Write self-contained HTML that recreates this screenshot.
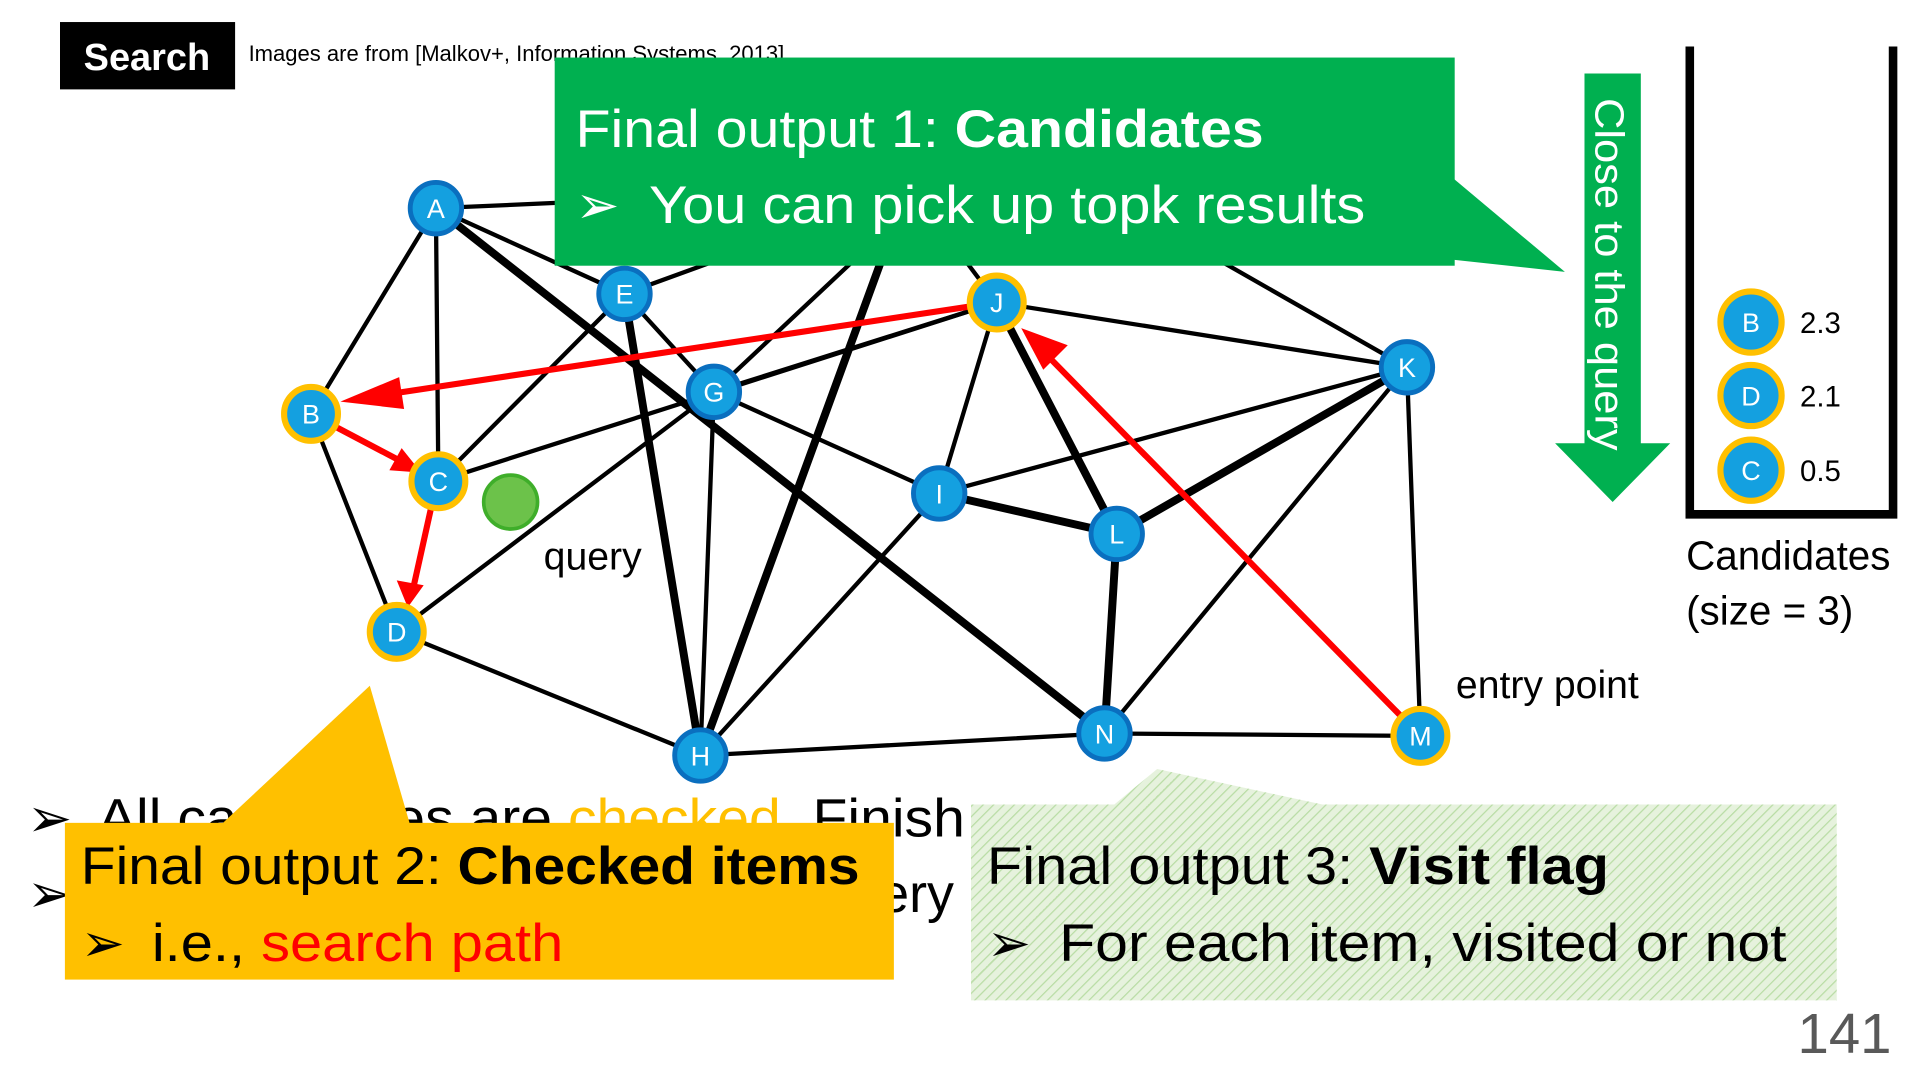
<!DOCTYPE html>
<html><head><meta charset="utf-8"><style>
html,body{margin:0;padding:0;background:#fff;width:1920px;height:1080px;overflow:hidden}
svg{display:block}
text{font-family:"Liberation Sans",sans-serif}
</style></head><body>
<svg width="1920" height="1080" viewBox="0 0 1568 882" xmlns="http://www.w3.org/2000/svg">
<defs>
<pattern id="hatch" width="6" height="6" patternUnits="userSpaceOnUse" patternTransform="rotate(45)">
<rect width="6" height="6" fill="#e6f2dd"/><line x1="0" y1="0" x2="0" y2="6" stroke="#b8dca4" stroke-width="2"/>
</pattern>
</defs>
<!-- background bullet text -->
<g font-size="44" fill="#000">
<text x="22" y="683" font-family="DejaVu Sans">➢</text>
<text x="80" y="683" textLength="708" lengthAdjust="spacingAndGlyphs">All candidates are <tspan fill="#ffc000">checked</tspan>. Finish</text>
<text x="22" y="745" font-family="DejaVu Sans">➢</text>
<text x="718" y="745">ery</text>
</g>
<!-- edges thin -->
<g stroke="#000" stroke-width="3.5" stroke-linecap="round">
<line x1="356" y1="170" x2="254" y2="338"/>
<line x1="356" y1="170" x2="358" y2="393"/>
<line x1="356" y1="170" x2="510" y2="240"/>
<line x1="356" y1="170" x2="470" y2="165"/>
<line x1="254" y1="338" x2="324" y2="516"/>
<line x1="358" y1="393" x2="510" y2="240"/>
<line x1="358" y1="393" x2="814" y2="247"/>
<line x1="324" y1="516" x2="583" y2="320"/>
<line x1="324" y1="516" x2="572" y2="617"/>
<line x1="510" y1="240" x2="583" y2="320"/>
<line x1="510" y1="240" x2="620" y2="200"/>
<line x1="583" y1="320" x2="700" y2="210"/>
<line x1="583" y1="320" x2="572" y2="617"/>
<line x1="583" y1="320" x2="767" y2="403"/>
<line x1="583" y1="320" x2="814" y2="247"/>
<line x1="814" y1="247" x2="790" y2="215"/>
<line x1="814" y1="247" x2="1149" y2="300"/>
<line x1="814" y1="247" x2="767" y2="403"/>
<line x1="1000" y1="215" x2="1149" y2="300"/>
<line x1="572" y1="617" x2="767" y2="403"/>
<line x1="572" y1="617" x2="902" y2="599"/>
<line x1="902" y1="599" x2="1160" y2="601"/>
<line x1="902" y1="599" x2="1149" y2="300"/>
<line x1="1160" y1="601" x2="1149" y2="300"/>
<line x1="767" y1="403" x2="1149" y2="300"/>
</g>
<g stroke="#000" stroke-width="6.5" stroke-linecap="round">
<line x1="356" y1="170" x2="902" y2="599"/>
<line x1="510" y1="240" x2="572" y2="617"/>
<line x1="572" y1="617" x2="720" y2="212"/>
<line x1="767" y1="403" x2="912" y2="436"/>
<line x1="912" y1="436" x2="902" y2="599"/>
<line x1="912" y1="436" x2="814" y2="247"/>
<line x1="912" y1="436" x2="1149" y2="300"/>
</g>
<!-- red arrows -->
<g stroke="#ff0000" stroke-width="5" fill="#ff0000">
<line x1="1160" y1="601" x2="855" y2="290"/>
<polygon points="834,268 872,282 852,302" stroke="none"/>
<line x1="814" y1="247" x2="310" y2="323"/>
<polygon points="278,328 326,308 330,334" stroke="none"/>
<line x1="254" y1="338" x2="330" y2="378"/>
<polygon points="344,386 318,384 328,366" stroke="none"/>
<line x1="352" y1="415" x2="338" y2="478"/>
<polygon points="333,496 324,474 346,478" stroke="none"/>
</g>
<!-- nodes -->
<g font-size="22" fill="#fff" text-anchor="middle">
<g stroke="#0a6fbf" stroke-width="4" fill="#14a0e0">
<circle cx="356" cy="170" r="21"/><circle cx="510" cy="240" r="21"/><circle cx="583" cy="320" r="21"/>
<circle cx="1149" cy="300" r="21"/><circle cx="767" cy="403" r="21"/><circle cx="912" cy="436" r="21"/>
<circle cx="572" cy="617" r="21"/><circle cx="902" cy="599" r="21"/>
</g>
<g stroke="#ffc000" stroke-width="5" fill="#14a0e0">
<circle cx="814" cy="247" r="22"/><circle cx="254" cy="338" r="22"/><circle cx="358" cy="393" r="22"/>
<circle cx="324" cy="516" r="22"/><circle cx="1160" cy="601" r="22"/>
<circle cx="1430" cy="263" r="25"/><circle cx="1430" cy="323" r="25"/><circle cx="1430" cy="384" r="25"/>
</g>
<text x="356" y="178">A</text><text x="510" y="248">E</text><text x="583" y="328">G</text>
<text x="1149" y="308">K</text><text x="767" y="411">I</text><text x="912" y="444">L</text>
<text x="572" y="625">H</text><text x="902" y="607">N</text><text x="814" y="255">J</text>
<text x="254" y="346">B</text><text x="358" y="401">C</text><text x="324" y="524">D</text>
<text x="1160" y="609">M</text>
<text x="1430" y="271">B</text><text x="1430" y="331">D</text><text x="1430" y="392">C</text>
</g>
<circle cx="417" cy="410" r="22" fill="#6cc24a" stroke="#3fae2a" stroke-width="3"/>
<text x="444" y="465" font-size="32">query</text>
<text x="1189" y="570" font-size="32">entry point</text>
<g font-size="24"><text x="1470" y="272">2.3</text><text x="1470" y="332">2.1</text><text x="1470" y="393">0.5</text></g>
<!-- bin -->
<path d="M1380,38 V420 H1546 V38" fill="none" stroke="#000" stroke-width="7"/>
<text x="1377" y="465" font-size="33">Candidates</text>
<text x="1377" y="510" font-size="33">(size = 3)</text>
<!-- green down arrow -->
<polygon points="1294,60 1340,60 1340,362 1364,362 1317,410 1270,362 1294,362" fill="#00b050"/>
<text transform="translate(1303,80) rotate(90)" font-size="33" fill="#fff" textLength="288" lengthAdjust="spacingAndGlyphs">Close to the query</text>
<!-- header -->
<rect x="49" y="18" width="143" height="55" fill="#000"/>
<text x="120" y="57" font-size="31" font-weight="bold" fill="#fff" text-anchor="middle">Search</text>
<text x="203" y="50" font-size="18">Images are from [Malkov+, Information Systems, 2013]</text>
<!-- green callout -->
<rect x="453" y="47" width="735" height="170" fill="#00b050"/>
<polygon points="1186,145 1278,222 1186,212" fill="#00b050"/>
<g fill="#fff" font-size="43">
<text x="470" y="120" textLength="562" lengthAdjust="spacingAndGlyphs">Final output 1: <tspan font-weight="bold">Candidates</tspan></text>
<text x="470" y="182" font-family="DejaVu Sans">➢</text>
<text x="530" y="182" textLength="585" lengthAdjust="spacingAndGlyphs">You can pick up topk results</text>
</g>
<!-- yellow callout -->
<polygon points="180,674 302,560 335,674" fill="#ffc000"/>
<rect x="53" y="672" width="677" height="128" fill="#ffc000"/>
<g font-size="43" fill="#000">
<text x="66" y="722" textLength="636" lengthAdjust="spacingAndGlyphs">Final output 2: <tspan font-weight="bold">Checked items</tspan></text>
<text x="66" y="785" font-family="DejaVu Sans">➢</text>
<text x="124" y="785" textLength="336" lengthAdjust="spacingAndGlyphs">i.e., <tspan fill="#ff0000">search path</tspan></text>
</g>
<!-- hatched callout -->
<polygon points="793,657 910,657 945,628 1080,657 1500,657 1500,817 793,817" fill="url(#hatch)"/>
<g font-size="43" fill="#000">
<text x="806" y="722" textLength="508" lengthAdjust="spacingAndGlyphs">Final output 3: <tspan font-weight="bold">Visit flag</tspan></text>
<text x="806" y="785" font-family="DejaVu Sans">➢</text>
<text x="865" y="785" textLength="594" lengthAdjust="spacingAndGlyphs">For each item, visited or not</text>
</g>
<text x="1468" y="860" font-size="46" fill="#595959">141</text>
</svg>
</body></html>
